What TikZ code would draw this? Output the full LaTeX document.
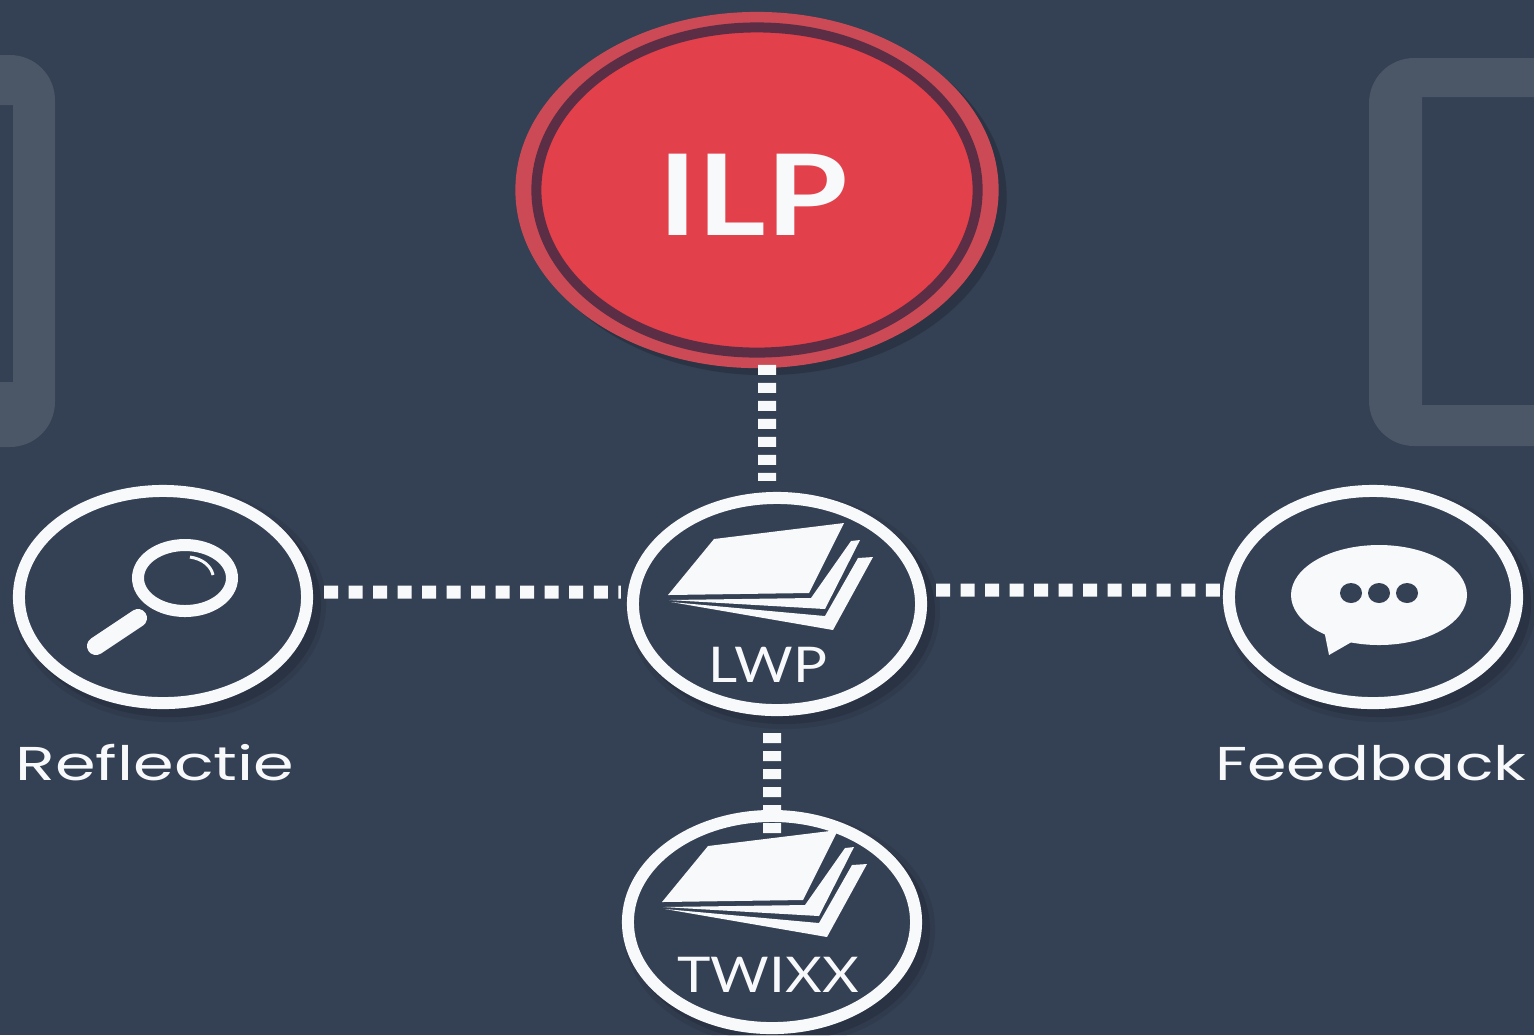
\documentclass[tikz,border=0pt]{standalone}
\usepackage{fontspec}
\setmainfont{Poppins}
\newfontfamily\lwpfont{Lato}
\usetikzlibrary{shapes,shapes.geometric,positioning}

\definecolor{slatebg}{HTML}{344053}
\definecolor{framegrey}{HTML}{4B5767}
\definecolor{ilpred}{HTML}{E2404A}
\definecolor{ilpring}{HTML}{CC4A55}
\definecolor{ilpdark}{HTML}{5C2E45}
\definecolor{paperwhite}{HTML}{F8F9FA}

\tikzset{
	paperstack/.pic={
		\fill[paperwhite] (-109,-9) -- (-63,-65) -- (67,-81) -- (32,-11) -- cycle;
		\fill[paperwhite] (-108,-4) -- (34,-6) -- (74,-63) -- (83,-64) -- (48,5) -- cycle;
		\fill[paperwhite] (-106,-2) -- (48,12) -- (81,-46) -- (96,-47) -- (56,26) -- cycle;
	}
}

\begin{document}
\begin{tikzpicture}[x=0.01cm,y=-0.01cm]
					\tikzstyle{ring} = [
						ellipse,
						draw=paperwhite,
						line width=0.12cm,
						fill=slatebg,
						inner sep=0,
						minimum width=2.88cm,
						minimum height=2.12cm,
						preaction={draw=black,opacity=0.07,line width=0.24cm,transform canvas={xshift=0.07cm,yshift=-0.07cm}},
						preaction={draw=black,opacity=0.12,line width=0.14cm,transform canvas={xshift=0.07cm,yshift=-0.07cm}}
					]
					\tikzstyle{ilpouter} = [
						ellipse,
						fill=ilpring,
						inner sep=0,
						minimum width=4.83cm,
						minimum height=3.56cm,
						preaction={fill=black,opacity=0.18,transform canvas={xshift=0.08cm,yshift=-0.07cm}}
					]
					\tikzstyle{ilpinner} = [
						ellipse,
						draw=ilpdark,
						line width=0.1cm,
						fill=ilpred,
						inner sep=0,
						minimum width=4.41cm,
						minimum height=3.25cm
					]
					\tikzstyle{biglabel} = [
						text=paperwhite,
						inner sep=0,
						xscale=1.3,
						transform shape,
						font=\fontsize{13.5}{14}\selectfont
					]
					\tikzstyle{smalllabel} = [
						text=paperwhite,
						inner sep=0,
						xscale=1.15,
						transform shape,
						font=\lwpfont\fontsize{14}{14}\selectfont
					]
					\tikzstyle{dots} = [
						draw=paperwhite,
						line width=0.13cm,
						dash pattern=on 0.14cm off 0.105cm
					]
					\tikzstyle{dotsv} = [
						draw=paperwhite,
						line width=0.18cm,
						dash pattern=on 0.1cm off 0.08cm
					]

					\useasboundingbox (0,0) rectangle (1534,1035);
					\fill[slatebg] (0,0) rectangle (1534,1035);

					\fill[framegrey,even odd rule,rounded corners=0.45cm] (-200,55) rectangle (55,447)
						[sharp corners] (-200,105) rectangle (13,382);
					\fill[framegrey,even odd rule,rounded corners=0.45cm] (1369,58) rectangle (1700,446)
						[sharp corners] (1422,97) rectangle (1700,405);

					\node (ilpback) [style=ilpouter] at (757,190) {};
					\node (ilp) [style=ilpinner] at (757,190) {};
					\node (ilptext) [text=paperwhite,inner sep=0,xscale=1.17,transform shape,font=\lwpfont\bfseries\fontsize{32}{32}\selectfont] at (753,195) {ILP};

					\node (reflectie) [style=ring] at (163,597) {};
					\node (lwp) [style=ring] at (777,604) {};
					\node (feedback) [style=ring] at (1373,597) {};
					\node (twixx) [style=ring] at (772,922) {};

					\node (lwptext) [style=smalllabel] at (768,665) {LWP};
					\node (twixxtext) [style=smalllabel] at (768,975) {TWIXX};
					\node (reflectietext) [style=biglabel,xscale=1.06] at (155,763) {Reflectie};
					\node (feedbacktext) [style=biglabel,xscale=1.03] at (1371,763) {Feedback};

					\pic at (777,604) {paperstack};
					\pic at (771,911) {paperstack};

					\draw [style=dots] ([xshift=0.11cm,yshift=0.05cm]reflectie.east) -- ([xshift=-0.06cm,yshift=0.12cm]lwp.west);
					\draw [style=dots] ([xshift=0.09cm,yshift=0.14cm]lwp.east) -- ([yshift=0.07cm]feedback.west);
					\draw [style=dotsv] ([xshift=0.1cm,yshift=0.04cm]ilpback.south) -- ([xshift=-0.1cm,yshift=0.11cm]lwp.north);
					\draw [style=dotsv] ([xshift=-0.05cm,yshift=-0.17cm]lwp.south) -- ([yshift=-0.5cm]twixx.north);

					\draw [paperwhite,line width=0.12cm] (185,578) ellipse [x radius=47,y radius=33];
					\draw [paperwhite,line width=0.03cm] (190,557) .. controls (203,559) and (211,566) .. (213,575);
					\draw [paperwhite,line width=0.18cm,line cap=round] (138,618) -- (96,646);

					\fill [paperwhite] (1379,595) ellipse [x radius=88,y radius=50];
					\fill [paperwhite] (1324,630) -- (1329,655) -- (1355,640) -- cycle;
					\foreach \dotx in {1351,1379,1407}
						\fill [slatebg] (\dotx,593) ellipse [x radius=11,y radius=10];

				\end{tikzpicture}
\end{document}
